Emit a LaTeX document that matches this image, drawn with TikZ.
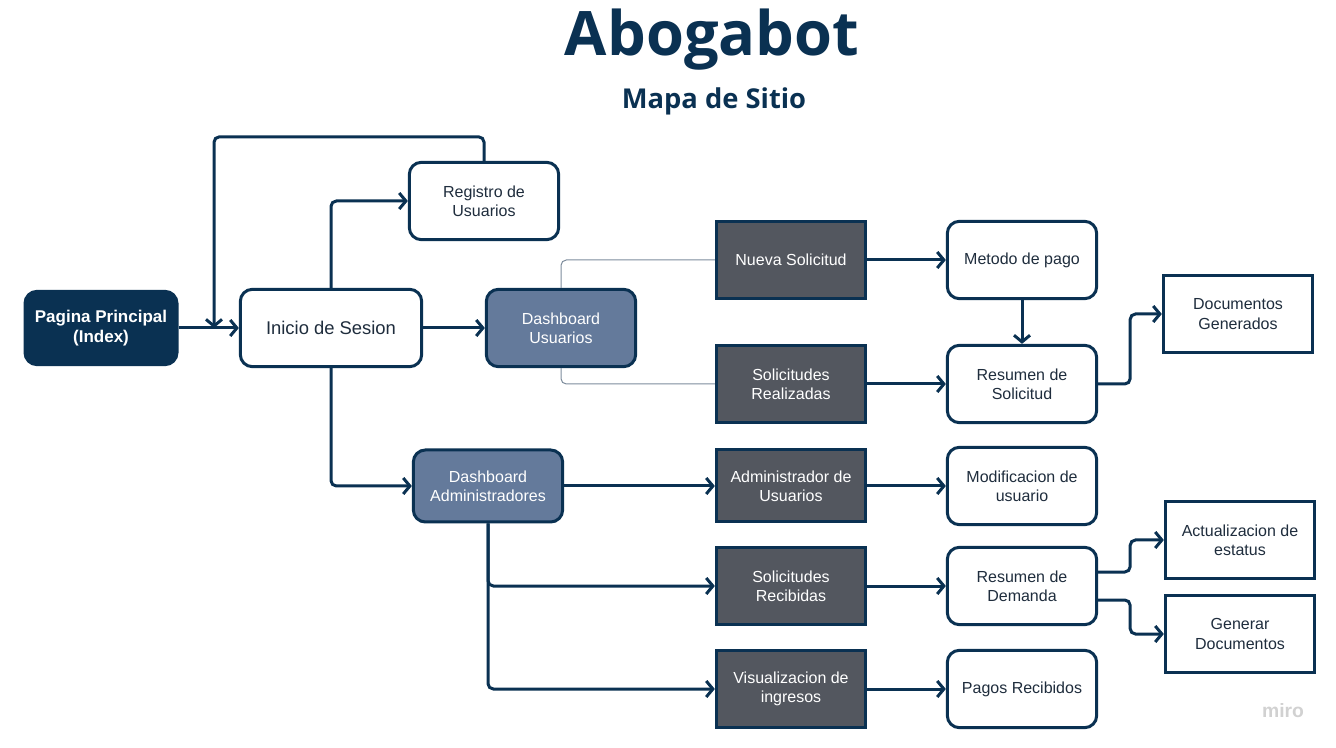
\documentclass[tikz,border=0pt]{standalone}
\usepackage{fontspec}
\setmainfont{Liberation Sans}
\newfontfamily\titlefont{Open Sans}
\usetikzlibrary{arrows.meta}
\definecolor{navy}{HTML}{0A3152}
\definecolor{slate}{HTML}{647A9B}
\definecolor{boxgray}{HTML}{53575F}
\definecolor{thinline}{HTML}{7D8C9C}
\definecolor{inktext}{HTML}{1F2D3D}
\begin{document}
\begin{tikzpicture}[x=.75pt,y=-.75pt,
  page/.style={draw=navy,line width=2.25pt,rounded corners=9pt,fill=white,text=inktext,
    minimum width=112pt,minimum height=58pt,align=center,inner sep=2pt,
    font=\fontsize{12}{14.5}\selectfont},
  leaf/.style={page,rounded corners=0pt},
  dashbox/.style={page,fill=slate,text=white},
  section/.style={page,rounded corners=0pt,fill=boxgray,text=white},
  home/.style={page,fill=navy,text=white,minimum width=114pt,minimum height=55pt,
    font=\bfseries\fontsize{12.75}{14.5}\selectfont},
  link/.style={draw=navy,line width=2.25pt,rounded corners=4pt,
    -{Straight Barb[length=5pt,width=12pt]}},
  thinlink/.style={draw=thinline,line width=.75pt,rounded corners=4pt}]
\path[use as bounding box] (0,0) rectangle (1336,748);

\node[text=navy,font=\titlefont\bfseries\fontsize{46}{54}\selectfont] (title) at (712,40) {Abogabot};
\node[text=navy,font=\titlefont\bfseries\fontsize{20.5}{24}\selectfont] (subtitle) at (714,101) {Mapa de Sitio};

\node[home] (index) at (101,328) {Pagina Principal\\(Index)};
\node[page,minimum width=136pt,font=\fontsize{13.8}{16}\selectfont] (login) at (331,328) {Inicio de Sesion};
\node[page] (registro) at (484,201) {Registro de\\Usuarios};
\node[dashbox] (dashu) at (561,328) {Dashboard\\Usuarios};
\node[dashbox,minimum height=54pt] (dasha) at (488,486) {Dashboard\\Administradores};

\node[section] (nueva) at (791,260) {Nueva Solicitud};
\node[section] (realiz) at (791,384) {Solicitudes\\Realizadas};
\node[section,minimum height=54pt] (adminu) at (791,486) {Administrador de\\Usuarios};
\node[section] (recib) at (791,586) {Solicitudes\\Recibidas};
\node[section] (visual) at (791,689) {Visualizacion de\\ingresos};

\node[page] (metodo) at (1022,260) {Metodo de pago};
\node[page] (resumsol) at (1022,384) {Resumen de\\Solicitud};
\node[page] (modif) at (1022,486) {Modificacion de\\usuario};
\node[page] (resumdem) at (1022,586) {Resumen de\\Demanda};
\node[page] (pagos) at (1022,689) {Pagos Recibidos};

\node[leaf] (docgen) at (1238,314) {Documentos\\Generados};
\node[leaf] (estatus) at (1240,540) {Actualizacion de\\estatus};
\node[leaf] (generar) at (1240,634) {Generar\\Documentos};

\node[text=black!18,font=\bfseries\fontsize{14.5}{16}\selectfont] (miro) at (1283,711) {miro};

\coordinate (loop) at (214,328);
\draw[link] (index) -- (login);
\draw[link] (registro.north) -- ++(0,-24) -| (loop);
\draw[link] (login.north) |- (registro.west);
\draw[link] (login) -- (dashu);
\draw[link] (login.south) |- (dasha.west);
\draw[thinlink] (dashu.north) |- (nueva.west);
\draw[thinlink] (dashu.south) |- (realiz.west);
\draw[link] (nueva) -- (metodo);
\draw[link] (metodo) -- (resumsol);
\draw[link] (realiz) -- (resumsol);
\draw[link] (resumsol.east) -- ++(32,0) |- (docgen.west);
\draw[link] (dasha) -- (adminu);
\draw[link] (dasha.south) |- (recib.west);
\draw[link] (dasha.south) |- (visual.west);
\draw[link] (adminu) -- (modif);
\draw[link] (recib) -- (resumdem);
\draw[link] (visual) -- (pagos);
\draw[link] ([yshift=10.5pt]resumdem.east) -- ++(32,0) |- (estatus.west);
\draw[link] ([yshift=-10.5pt]resumdem.east) -- ++(32,0) |- (generar.west);
\end{tikzpicture}
\end{document}
